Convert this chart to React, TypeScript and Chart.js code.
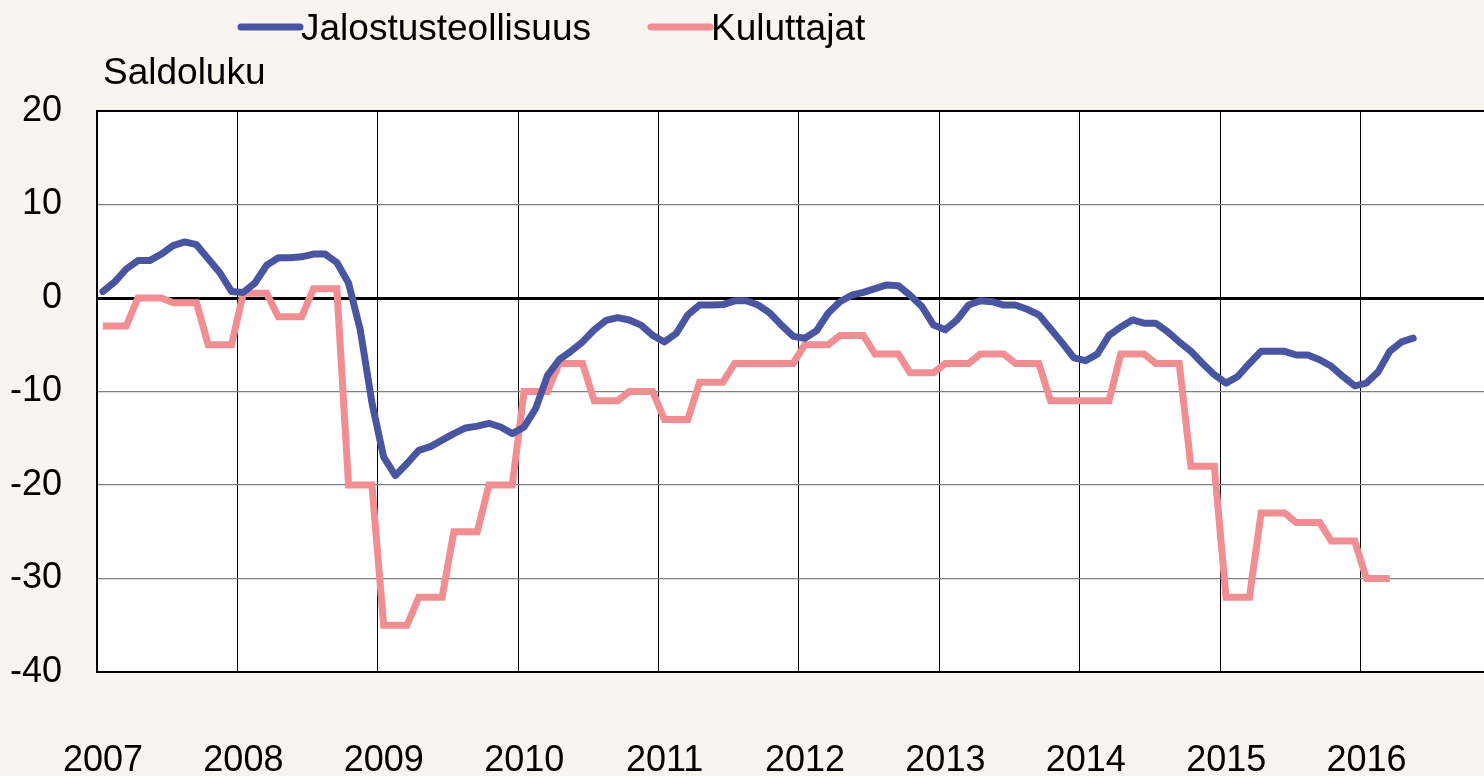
import React, { useEffect, useRef } from "react";
import { Chart, registerables } from "chart.js";

Chart.register(...registerables);

// Year labels for the x axis (one gridline per January)
const yearLabels = ["2007", "2008", "2009", "2010", "2011", "2012", "2013", "2014", "2015", "2016"];

// Y axis ticks
const yTicks = [-40, -30, -20, -10, 0, 10, 20];

// Jalostusteollisuus, monthly, Jan 2007 – May 2016
const jalostusteollisuus = [
  0.7, 1.7, 3.1, 4.0, 4.0, 4.7, 5.6, 6.0, 5.7, 4.2, 2.7, 0.7,
  0.6, 1.6, 3.5, 4.3, 4.3, 4.4, 4.7, 4.7, 3.8, 1.6, -3.4, -11.2,
  -17.0, -19.0, -17.7, -16.3, -15.9, -15.2, -14.5, -13.9, -13.7, -13.4, -13.8, -14.5,
  -13.8, -11.8, -8.3, -6.6, -5.7, -4.7, -3.4, -2.4, -2.1, -2.35, -2.9, -4.0,
  -4.7, -3.8, -1.8, -0.75, -0.75, -0.7, -0.3, -0.3, -0.75, -1.6, -2.9, -4.1,
  -4.3, -3.5, -1.6, -0.4, 0.3, 0.6, 1.0, 1.4, 1.3, 0.3, -0.9, -2.9,
  -3.4, -2.35, -0.75, -0.3, -0.4, -0.75, -0.75, -1.2, -1.8, -3.3, -4.8, -6.4,
  -6.7, -6.0, -4.0, -3.1, -2.35, -2.7, -2.7, -3.6, -4.7, -5.7, -7.0, -8.2,
  -9.1, -8.4, -7.0, -5.7, -5.7, -5.7, -6.1, -6.1, -6.6, -7.3, -8.4, -9.4,
  -9.1, -7.9, -5.7, -4.7, -4.3,
];

// Kuluttajat, monthly, Jan 2007 – Mar 2016
const kuluttajat = [
  -3, -3, -3, 0, 0, 0, -0.5, -0.5, -0.5, -5, -5, -5,
  0.5, 0.5, 0.5, -2, -2, -2, 1, 1, 1, -20, -20, -20,
  -35, -35, -35, -32, -32, -32, -25, -25, -25, -20, -20, -20,
  -10, -10, -10, -7, -7, -7, -11, -11, -11, -10, -10, -10,
  -13, -13, -13, -9, -9, -9, -7, -7, -7, -7, -7, -7,
  -5, -5, -5, -4, -4, -4, -6, -6, -6, -8, -8, -8,
  -7, -7, -7, -6, -6, -6, -7, -7, -7, -11, -11, -11,
  -11, -11, -11, -6, -6, -6, -7, -7, -7, -18, -18, -18,
  -32, -32, -32, -23, -23, -23, -24, -24, -24, -26, -26, -26,
  -30, -30, -30,
];

const seriesNames = ["Jalostusteollisuus", "Kuluttajat"];
const yTitle = "Saldoluku";

const BLUE = "#4a55a2";
const PINK = "#f08e94";
const BG = "#f8f4ef";
const FONT = '"Liberation Sans", Arial, sans-serif';

const toPoints = (vals: number[]) => vals.map((v, i) => ({ x: i + 0.5, y: v }));

const decorPlugin = {
  id: "decor",
  beforeDraw(chart: any) {
    const { ctx, chartArea: a } = chart;
    ctx.save();
    ctx.fillStyle = "#ffffff";
    ctx.fillRect(a.left, a.top, a.right - a.left, a.bottom - a.top);
    ctx.restore();
  },
  afterDraw(chart: any) {
    const { ctx } = chart;
    ctx.save();
    ctx.lineCap = "round";
    ctx.lineWidth = 7;
    const items = [
      { color: BLUE, x0: 241, x1: 300, label: seriesNames[0] },
      { color: PINK, x0: 651, x1: 710, label: seriesNames[1] },
    ];
    ctx.font = `37px ${FONT}`;
    ctx.textBaseline = "alphabetic";
    ctx.textAlign = "left";
    for (const it of items) {
      ctx.strokeStyle = it.color;
      ctx.beginPath();
      ctx.moveTo(it.x0, 27);
      ctx.lineTo(it.x1, 27);
      ctx.stroke();
      ctx.fillStyle = "#000";
      ctx.fillText(it.label, it.x1 + 1, 40);
    }
    ctx.fillText(yTitle, 103, 84);
    ctx.restore();
  },
};

export default function App() {
  const ref = useRef<HTMLCanvasElement | null>(null);

  useEffect(() => {
    document.body.style.margin = "0";
    document.body.style.background = BG;
    const canvas = ref.current;
    if (!canvas) return;
    const chart = new Chart(canvas, {
      type: "line",
      data: {
        datasets: [
          {
            label: seriesNames[0],
            data: toPoints(jalostusteollisuus),
            borderColor: BLUE,
            backgroundColor: BLUE,
            borderWidth: 7,
            pointRadius: 0,
            tension: 0,
            borderCapStyle: "round",
            borderJoinStyle: "round",
          },
          {
            label: seriesNames[1],
            data: toPoints(kuluttajat),
            borderColor: PINK,
            backgroundColor: PINK,
            borderWidth: 7,
            pointRadius: 0,
            tension: 0,
            borderCapStyle: "butt",
            borderJoinStyle: "miter",
          },
        ],
      },
      options: {
        animation: false,
        responsive: true,
        maintainAspectRatio: false,
        layout: { padding: { top: 111, left: 0, right: 0, bottom: 0 } },
        plugins: {
          legend: { display: false },
          title: { display: false },
          tooltip: { enabled: false },
        },
        scales: {
          x: {
            type: "linear",
            min: 0,
            max: 118.55,
            afterBuildTicks: (axis: any) => {
              axis.ticks = yearLabels.map((_, i) => ({ value: i * 12 }));
            },
            afterFit: (s: any) => {
              s.height = 104;
              s.paddingLeft = 0;
              s.paddingRight = 0;
            },
            border: { display: true, color: "#000", width: 2 },
            grid: { drawTicks: false, color: "#000", lineWidth: 1 },
            ticks: {
              padding: 67,
              labelOffset: 6,
              maxRotation: 0,
              autoSkip: false,
              color: "#000",
              font: { family: FONT, size: 36 },
              callback: (_v: any, i: number) => yearLabels[i],
            },
          },
          y: {
            min: -40,
            max: 20,
            afterBuildTicks: (axis: any) => {
              axis.ticks = yTicks.map((v) => ({ value: v }));
            },
            afterFit: (s: any) => {
              s.width = 97;
            },
            border: { display: true, color: "#000", width: 2 },
            grid: {
              drawTicks: false,
              color: (c: any) =>
                c.tick && (c.tick.value === 0 || c.tick.value === 20 || c.tick.value === -40) ? "#000" : "#808080",
              lineWidth: (c: any) =>
                c.tick && c.tick.value === 0 ? 3 : c.tick && (c.tick.value === 20 || c.tick.value === -40) ? 2 : 1.3,
            },
            ticks: {
              padding: 35,
              color: "#000",
              font: { family: FONT, size: 36 },
              callback: (v: any) => String(v),
            },
          },
        },
      },
      plugins: [decorPlugin],
    } as any);
    return () => chart.destroy();
  }, []);

  return (
    <div style={{ width: 1484, height: 776, background: BG, position: "relative" }}>
      <canvas ref={ref} />
    </div>
  );
}
